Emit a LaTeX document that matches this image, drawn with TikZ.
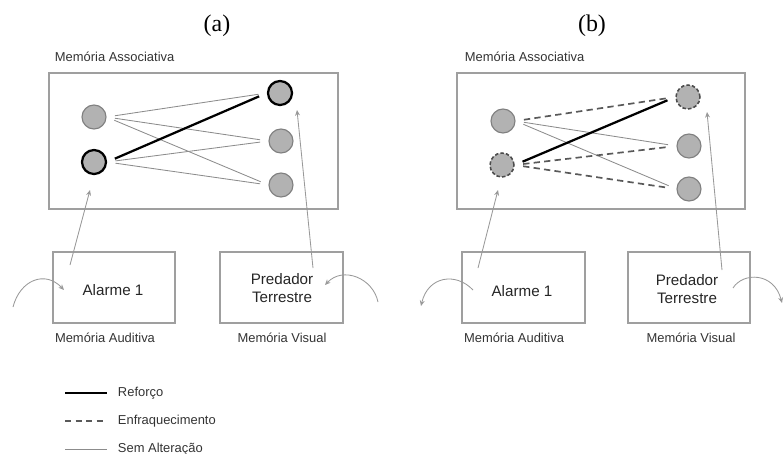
\documentclass[tikz,border=0pt]{standalone}
\usepackage{fontspec}
\setmainfont{Liberation Serif}
\setsansfont{Liberation Sans}
\usetikzlibrary{arrows.meta}

\definecolor{nfill}{gray}{0.70}
\definecolor{nedge}{gray}{0.50}
\definecolor{lgray}{gray}{0.55}

\tikzset{
  neur/.style={circle,draw=nedge,fill=nfill,line width=0.8pt,minimum size=0.6cm,inner sep=0pt},
  neurstrong/.style={neur,draw=black,line width=1.6pt},
  neurweak/.style={neur,draw=black!70,line width=1.1pt,dash pattern=on 2.5pt off 1.5pt},
  membox/.style={draw=gray!75,line width=1pt},
  lbl/.style={font=\sffamily\fontsize{9.2}{11}\selectfont,text=black!80},
  boxtxt/.style={font=\sffamily\fontsize{10.8}{13}\selectfont,text=black!85,align=center},
  same/.style={draw=lgray,line width=0.6pt,shorten <=6pt,shorten >=6pt},
  strong/.style={draw=black,line width=1.6pt,shorten <=6pt,shorten >=6pt},
  weak/.style={draw=black!65,line width=1.2pt,dash pattern=on 4.5pt off 3pt,shorten <=6pt,shorten >=6pt},
  inarr/.style={draw=gray!80,line width=0.6pt,-{Stealth[length=4pt,width=3.5pt]}}
}

\begin{document}
\begin{tikzpicture}[x=0.025cm,y=-0.025cm]
  \useasboundingbox (0,0) rectangle (784,454);

  %% titles
  \node[font=\fontsize{17}{17}\selectfont] (tita) at (217,26) {(a)};
  \node[font=\fontsize{17}{17}\selectfont] (titb) at (592,26) {(b)};

  %%%%%%% panel (a)
  \node[lbl,anchor=west] (assa) at (50,57) {Memória Associativa};
  \draw[membox] (49,73) rectangle (338,209);
  \node[neur] (la1) at (94,117) {};
  \node[neurstrong] (la2) at (94,162) {};
  \node[neurstrong] (ra1) at (280,93) {};
  \node[neur] (ra2) at (281,141) {};
  \node[neur] (ra3) at (281,185) {};
  \draw[same] (la1.east) -- (ra1.west);
  \draw[same] (la1.east) -- (ra2.west);
  \draw[same] (la1.east) -- (ra3.west);
  \draw[same] (la2.east) -- (ra2.west);
  \draw[same] (la2.east) -- (ra3.west);
  \draw[strong] (la2.east) -- (ra1.west);

  \draw[membox] (53,252) rectangle (175,323);
  \draw[membox] (220,252) rectangle (343,323);
  \node[boxtxt] (alma) at (113,290) {Alarme 1};
  \node[boxtxt] (preda) at (282,288) {Predador\\Terrestre};
  \node[lbl] (auda) at (105,338) {Memória Auditiva};
  \node[lbl] (visa) at (282,338) {Memória Visual};

  \coordinate (ina) at (70,265);
  \coordinate (tina) at (90,190);
  \coordinate (inva) at (313,268);
  \coordinate (tinva) at (297,110);
  \draw[inarr] (ina) -- (tina);
  \draw[inarr] (inva) -- (tinva);
  % stimuli coming in
  \coordinate (sa1) at (13,307);
  \coordinate (ea1) at (64,290);
  \coordinate (sa2) at (378,302);
  \coordinate (ea2) at (325,285);
  \draw[inarr] (sa1) .. controls (20,280) and (45,270) .. (ea1);
  \draw[inarr] (sa2) .. controls (373,278) and (343,266) .. (ea2);

  %%%%%%% panel (b)
  \node[lbl,anchor=west] (assb) at (460,57) {Memória Associativa};
  \draw[membox] (457,73) rectangle (745,209);
  \node[neur] (lb1) at (503,121) {};
  \node[neurweak] (lb2) at (502,165) {};
  \node[neurweak] (rb1) at (688,97) {};
  \node[neur] (rb2) at (689,146) {};
  \node[neur] (rb3) at (689,189) {};
  \draw[weak] (lb1.east) -- (rb1.west);
  \draw[same] (lb1.east) -- (rb2.west);
  \draw[same] (lb1.east) -- (rb3.west);
  \draw[weak] (lb2.east) -- (rb2.west);
  \draw[weak] (lb2.east) -- (rb3.west);
  \draw[strong] (lb2.east) -- (rb1.west);

  \draw[membox] (462,252) rectangle (585,323);
  \draw[membox] (628,252) rectangle (750,323);
  \node[boxtxt] (almb) at (522,291) {Alarme 1};
  \node[boxtxt] (predb) at (687,289) {Predador\\Terrestre};
  \node[lbl] (audb) at (514,338) {Memória Auditiva};
  \node[lbl] (visb) at (691,338) {Memória Visual};

  \coordinate (inb) at (478,268);
  \coordinate (tinb) at (498,190);
  \coordinate (invb) at (722,270);
  \coordinate (tinvb) at (707,112);
  \draw[inarr] (inb) -- (tinb);
  \draw[inarr] (invb) -- (tinvb);
  % responses going out
  \coordinate (sb1) at (473,290);
  \coordinate (eb1) at (421,306);
  \coordinate (sb2) at (733,288);
  \coordinate (eb2) at (782,303);
  \draw[inarr] (sb1) .. controls (456,272) and (428,276) .. (eb1);
  \draw[inarr] (sb2) .. controls (743,272) and (774,272) .. (eb2);

  %%%%%%% legend
  \coordinate (kr1) at (65,393); \coordinate (kr2) at (107,393);
  \coordinate (ke1) at (65,421); \coordinate (ke2) at (107,421);
  \coordinate (ks1) at (65,449); \coordinate (ks2) at (107,449);
  \draw[black,line width=1.6pt] (kr1) -- (kr2);
  \draw[black!65,line width=1.2pt,dash pattern=on 4.5pt off 3pt] (ke1) -- (ke2);
  \draw[lgray,line width=0.6pt] (ks1) -- (ks2);
  \node[lbl,anchor=west] (kref) at (113,393) {Reforço};
  \node[lbl,anchor=west] (kenf) at (113,421) {Enfraquecimento};
  \node[lbl,anchor=west] (ksem) at (113,449) {Sem Alteração};
\end{tikzpicture}
\end{document}
